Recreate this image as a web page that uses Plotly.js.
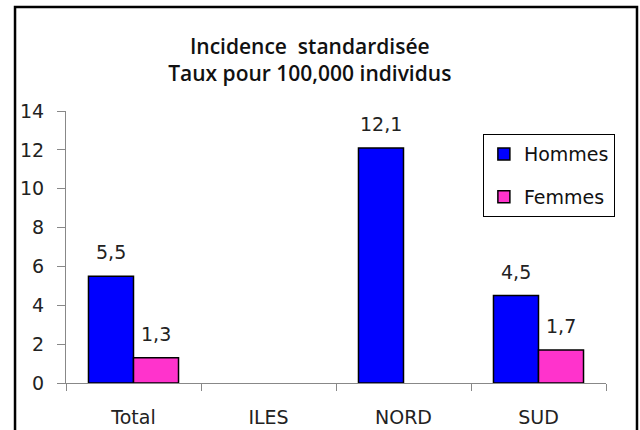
<!DOCTYPE html>
<html>
<head>
<meta charset="utf-8">
<script src="https://cdn.plot.ly/plotly-3.0.1.min.js"></script>
<style>
  body { margin: 0; background: #fff; }
  #chart { width: 640px; height: 430px; }
</style>
</head>
<body>
<div id="chart"></div>
<script>
// valeurs
let regions = ['Total', 'ILES', 'NORD', 'SUD'];
let hommes = [5.5, null, 12.1, 4.5];
let femmes = [1.3, null, null, 1.7];
let yTicks = [0, 2, 4, 6, 8, 10, 12, 14];

let axisFont = {family: 'DejaVu Sans', size: 19, color: '#222'};

function fr(v) {
    return String(v).replace('.', ',');
}

// étiquettes au-dessus des barres
let notes = [];
function addNotes(vals, shift) {
    for (let i = 0; i < vals.length; i++) {
        if (vals[i] == null) continue;
        notes.push({
            x: regions[i], y: vals[i], xref: 'x', yref: 'y',
            text: fr(vals[i]), showarrow: false,
            xshift: shift, yshift: 11, yanchor: 'bottom',
            font: axisFont
        });
    }
}
addNotes(hommes, -22.5);
addNotes(femmes, 22.5);

let traces = [
    {
        type: 'bar', name: 'Hommes', x: regions, y: hommes,
        marker: {color: '#0000ff', line: {color: '#000', width: 1.5}},
        legendgroup: 'h'
    },
    {
        type: 'bar', name: 'Femmes', x: regions, y: femmes,
        marker: {color: '#ff33cc', line: {color: '#000', width: 1.5}},
        legendgroup: 'f'
    }
];

let layout = {
    width: 640, height: 430,
    margin: {l: 66, r: 34, t: 111, b: 47},
    paper_bgcolor: '#fff', plot_bgcolor: '#fff',
    font: axisFont,
    title: {
        text: 'Incidence  standardisée<br>Taux pour 100,000 individus',
        font: {family: 'Open Sans', size: 21, weight: 600, color: '#111'},
        x: 0.484, xref: 'container', xanchor: 'center',
        y: 0.874, yref: 'container', yanchor: 'top'
    },
    barmode: 'group',
    bargap: 0.333,
    bargroupgap: 0,
    showlegend: true,
    legend: {
        x: 0.772, y: 0.915, xanchor: 'left', yanchor: 'top',
        bordercolor: '#000', borderwidth: 1, bgcolor: '#fff',
        font: {family: 'DejaVu Sans', size: 19, color: '#111'},
        tracegroupgap: 15
    },
    xaxis: {
        type: 'category',
        showline: true, linecolor: '#888', linewidth: 1,
        ticks: 'outside', tickson: 'boundaries', ticklen: 7, tickcolor: '#888',
        showgrid: false, zeroline: false,
        ticklabelstandoff: 17,
        tickfont: axisFont
    },
    yaxis: {
        range: [0, 14], tickvals: yTicks,
        showline: true, linecolor: '#888', linewidth: 1,
        ticks: 'outside', ticklen: 8, tickcolor: '#888',
        showgrid: false, zeroline: false,
        ticklabelstandoff: 9,
        tickfont: axisFont
    },
    annotations: notes,
    shapes: [{
        type: 'rect', xref: 'paper', yref: 'paper',
        x0: -0.0944, x1: 1.0574, y0: -0.3, y1: 1.3824,
        line: {color: '#000', width: 2.5}
    }]
};

Plotly.newPlot('chart', traces, layout, {staticPlot: true});
</script>
</body>
</html>
